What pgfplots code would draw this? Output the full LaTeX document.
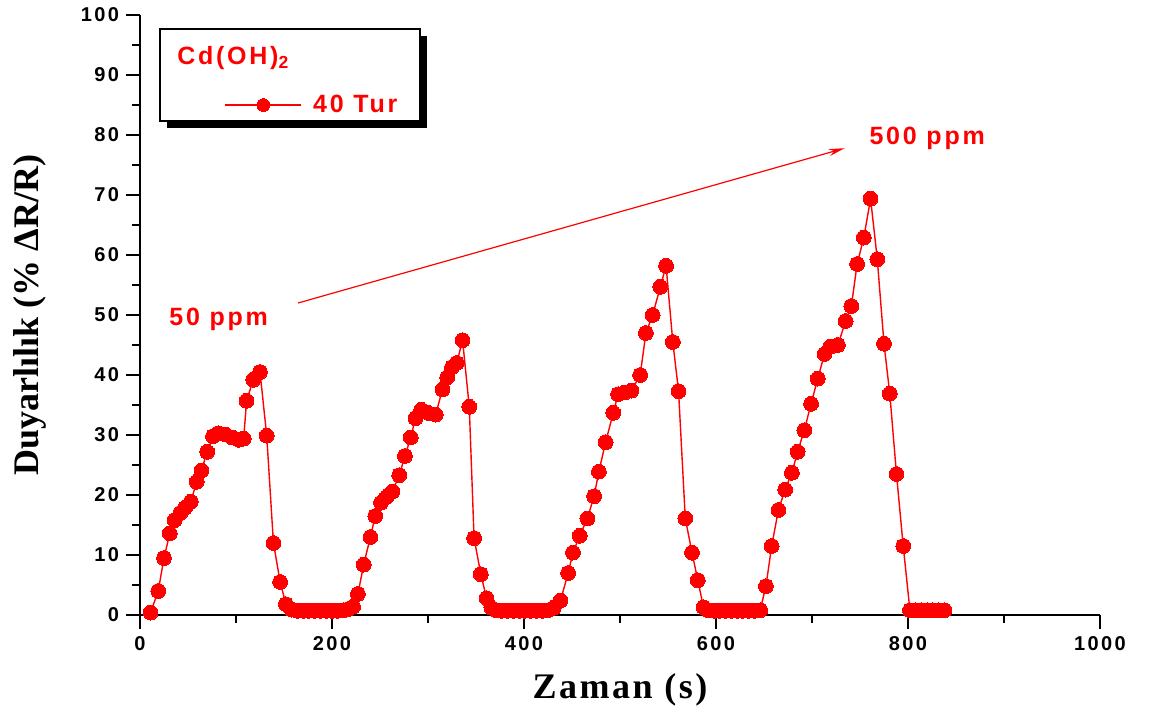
\documentclass[border=0pt]{standalone}
\usepackage{fontspec}
\usepackage{pgfplots}
\usepackage{pgfplotstable}
\pgfplotsset{compat=1.18}
\usetikzlibrary{arrows.meta,shadows}
\setmainfont{Liberation Sans}
\newfontfamily\tickfont[LetterSpace=12]{Liberation Sans}
\newfontfamily\redfont[LetterSpace=11]{Liberation Sans}
\newfontfamily\xlabelfont[LetterSpace=7]{Liberation Serif}
\newfontfamily\ylabelfont{Liberation Serif}

% Response of the Cd(OH)2 film (40 cycles), four gas pulses 50 -> 500 ppm
\pgfplotstableread{
t v
11 0.4
19 4.0
25 9.5
31 13.6
36 15.8
42 17.0
47 17.9
53 18.9
59 22.2
64 24.1
70 27.2
76 29.8
82 30.3
89 30.1
96 29.6
103 29.2
108 29.4
111 35.7
118 39.2
125 40.5
132 29.9
139 12.0
146 5.5
152 1.8
158 0.9
164 0.7
170 0.7
176 0.7
182 0.7
188 0.7
194 0.7
200 0.7
206 0.7
212 0.8
217 1.0
222 1.4
227 3.5
233 8.4
240 13.0
245 16.5
251 18.7
257 19.7
263 20.6
270 23.3
276 26.5
282 29.6
287 32.8
293 34.2
300 33.7
308 33.4
315 37.6
320 39.6
325 41.3
330 42.0
336 45.8
343 34.7
348 12.8
355 6.8
361 2.8
366 1.2
371 0.8
377 0.7
383 0.7
389 0.7
395 0.7
401 0.7
407 0.7
413 0.7
419 0.7
425 0.8
431 1.2
438 2.4
446 7.0
451 10.4
458 13.2
466 16.1
473 19.8
478 23.9
485 28.8
493 33.7
498 36.8
505 37.1
512 37.4
521 40.0
527 47.0
534 50.0
542 54.7
548 58.2
555 45.5
561 37.3
568 16.1
575 10.4
581 5.8
587 1.3
592 0.8
598 0.7
604 0.7
610 0.7
616 0.7
622 0.7
628 0.7
634 0.7
640 0.7
646 0.8
652 4.8
658 11.5
665 17.5
672 20.9
679 23.7
685 27.2
692 30.8
699 35.2
706 39.4
713 43.5
719 44.7
727 45.0
735 49.0
741 51.5
747 58.5
754 62.9
761 69.4
768 59.3
775 45.2
781 36.9
788 23.5
795 11.5
802 0.8
808 0.8
814 0.8
820 0.8
826 0.8
832 0.8
838 0.8
}\sensor

\begin{document}
\begin{tikzpicture}
\path[use as bounding box] (-70pt,-49pt) rectangle (505pt,307.5pt);
\begin{axis}[
  scale only axis, width=480pt, height=300pt,
  xmin=0, xmax=1000, ymin=0, ymax=100,
  axis x line=bottom, axis y line=left,
  axis line style={-, line width=1pt},
  xtick={0,200,...,1000}, ytick={0,10,...,100},
  minor x tick num=1, minor y tick num=1,
  tick align=outside,
  major tick length=7pt, minor tick length=4pt,
  tick style={black, line width=1pt},
  /pgf/number format/assume math mode=true,
  /pgf/number format/1000 sep={},
  ticklabel style={font=\tickfont\bfseries\fontsize{10}{11}\selectfont},
  xlabel={Zaman (s)}, ylabel={Duyarlılık (\% ΔR/R)},
  xlabel style={font=\xlabelfont\bfseries\fontsize{18}{20}\selectfont,
    at={(axis description cs:0.5,-0.125)}, anchor=center},
  ylabel style={font=\ylabelfont\bfseries\fontsize{18}{20}\selectfont,
    at={(axis description cs:-0.1146,0.5)}, anchor=center},
  clip=false,
  legend style={draw=none, fill=none, at={(rel axis cs:0.0875,0.850)}, anchor=west,
    inner sep=0pt, font=\redfont\bfseries\fontsize{12.5}{14}\selectfont, text=red,
    /tikz/every odd column/.style={column sep=3.5pt}},
  legend image code/.code={\draw[mark repeat=2, mark phase=2, #1]
    plot coordinates {(0pt,0pt) (19pt,0pt) (38pt,0pt)};},
  legend image post style={mark size=3.2pt, line width=0.9pt},
]
% legend frame with drop shadow and its title
\node[draw=black, line width=1pt, fill=white,
  drop shadow={shadow xshift=3.5pt, shadow yshift=-3.5pt, opacity=1, fill=black},
  minimum width=130pt, minimum height=46pt, anchor=north west, inner sep=0pt]
  at (rel axis cs:0.0198,0.9783) {};
\node[anchor=base west, inner sep=0pt, text=red,
  font=\redfont\bfseries\fontsize{12.5}{14}\selectfont]
  at (rel axis cs:0.0385,0.9167) {Cd(OH)\textsubscript{2}};

\addplot[red, line width=0.7pt, mark=*, mark size=3.7pt,
  mark options={fill=red, draw=red, line width=0pt}]
  table[x=t, y=v] {\sensor};
\addlegendentry{40 Tur}

% concentration ramp annotation
\node[anchor=base, inner sep=0pt, text=red,
  font=\redfont\bfseries\fontsize{12.5}{14}\selectfont]
  at (axis cs:82,48.2) {50 ppm};
\node[anchor=base, inner sep=0pt, text=red,
  font=\redfont\bfseries\fontsize{12.5}{14}\selectfont]
  at (axis cs:820,78.5) {500 ppm};
\draw[red, line width=0.6pt, -{Stealth[length=8pt, width=3.5pt]}]
  (axis cs:164.6,52) -- (axis cs:734,77.8);
\end{axis}
\end{tikzpicture}
\end{document}
